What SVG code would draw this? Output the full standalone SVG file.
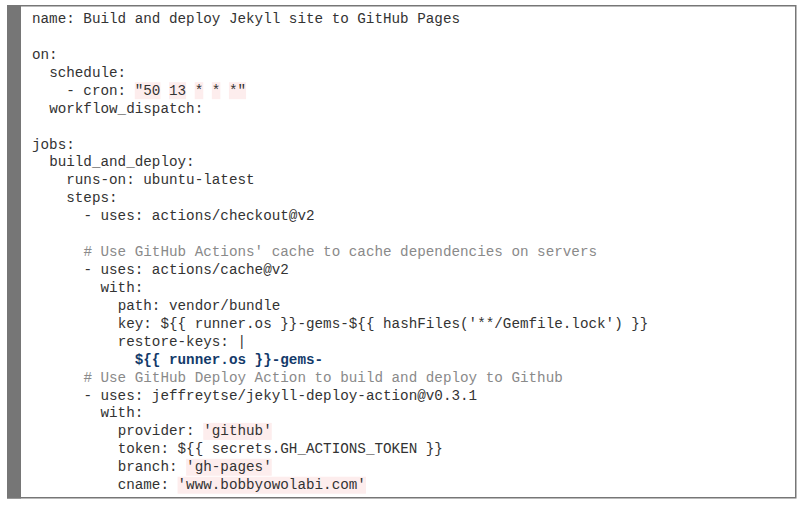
<svg xmlns="http://www.w3.org/2000/svg" width="801" height="506" viewBox="0 0 801 506">
<style>
.c{font-family:"Liberation Mono","Courier New",monospace;font-size:14.27px;fill:#333333;white-space:pre}
.cm{fill:#8a8a8a}
.bd{fill:#133a6a;font-weight:bold}
.hl{fill:#fdeded}
</style>
<rect x="0" y="0" width="801" height="506" fill="#ffffff"/>
<g id="frame">
<rect x="7.75" y="5.75" width="788" height="492" fill="#ffffff" stroke="#767676" stroke-width="1.5"/>
<rect x="7" y="5" width="14" height="493.5" fill="#767676"/>
</g>
<g id="highlights" transform="translate(0,1)">
<rect class="hl" x="134.76" y="81.2" width="25.69" height="17"/>
<rect class="hl" x="169.0" y="81.2" width="17.13" height="17"/>
<rect class="hl" x="194.7" y="81.2" width="8.56" height="17"/>
<rect class="hl" x="211.8" y="81.2" width="8.56" height="17"/>
<rect class="hl" x="228.95" y="81.2" width="17.13" height="17"/>
<rect class="hl" x="203.26" y="421.9" width="68.5" height="17"/>
<rect class="hl" x="186.13" y="457.75" width="85.63" height="17"/>
<rect class="hl" x="177.57" y="475.7" width="188.4" height="17"/>
</g>
<g id="code" transform="translate(0,1)">
<text class="c" x="32" y="22">name: Build and deploy Jekyll site to GitHub Pages</text>
<text class="c" x="32" y="57.86">on:</text>
<text class="c" x="49.13" y="75.79">schedule:</text>
<text class="c" x="66.25" y="93.72">- cron: "50 13 * * *"</text>
<text class="c" x="49.13" y="111.65">workflow_dispatch:</text>
<text class="c" x="32" y="147.51">jobs:</text>
<text class="c" x="49.13" y="165.44">build_and_deploy:</text>
<text class="c" x="66.25" y="183.37">runs-on: ubuntu-latest</text>
<text class="c" x="66.25" y="201.3">steps:</text>
<text class="c" x="83.38" y="219.23">- uses: actions/checkout@v2</text>
<text class="c cm" x="83.38" y="255.09"># Use GitHub Actions' cache to cache dependencies on servers</text>
<text class="c" x="83.38" y="273.02">- uses: actions/cache@v2</text>
<text class="c" x="100.5" y="290.95">with:</text>
<text class="c" x="117.63" y="308.88">path: vendor/bundle</text>
<text class="c" x="117.63" y="326.81">key: ${{ runner.os }}-gems-${{ hashFiles('**/Gemfile.lock') }}</text>
<text class="c" x="117.63" y="344.74">restore-keys: |</text>
<text class="c bd" x="134.76" y="362.67">${{ runner.os }}-gems-</text>
<text class="c cm" x="83.38" y="380.6"># Use GitHub Deploy Action to build and deploy to Github</text>
<text class="c" x="83.38" y="398.53">- uses: jeffreytse/jekyll-deploy-action@v0.3.1</text>
<text class="c" x="100.5" y="416.46">with:</text>
<text class="c" x="117.63" y="434.39">provider: 'github'</text>
<text class="c" x="117.63" y="452.32">token: ${{ secrets.GH_ACTIONS_TOKEN }}</text>
<text class="c" x="117.63" y="470.25">branch: 'gh-pages'</text>
<text class="c" x="117.63" y="488.18">cname: 'www.bobbyowolabi.com'</text>
</g>
</svg>
